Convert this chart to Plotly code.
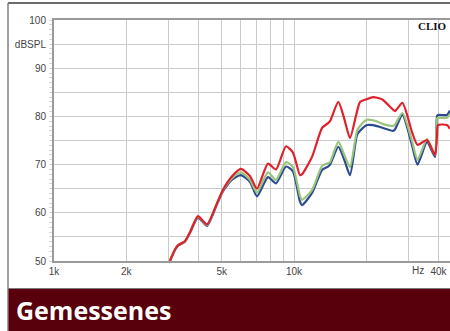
import plotly.graph_objects as go
import math

# ---- data ----
freq_hz = [3040, 3200, 3290, 3510, 3690, 3980, 4340, 4780, 5060, 5520, 6010, 6560, 7010,
           7790, 8410, 9260, 9900, 10590, 10800, 11890, 13090, 13860, 14130, 15300, 16200,
           17110, 18300, 18840, 20150, 21350, 22820, 23490, 25850, 26350, 28300, 31000,
           32700, 35830, 38680, 39430, 39810, 43410, 44670]
spl_red = [50.0, 52.5, 53.3, 54.1, 56.0, 59.3, 57.6, 62.0, 64.8, 67.6, 69.1, 67.6, 65.0,
           70.2, 69.0, 73.8, 72.5, 67.8, 68.0, 71.6, 77.6, 78.6, 79.0, 83.0, 79.5,
           75.5, 81.0, 83.0, 83.6, 84.0, 83.7, 83.4, 81.4, 81.1, 82.8, 76.8,
           74.1, 75.1, 72.0, 76.0, 78.2, 78.2, 77.4]
spl_green = [50.0, 52.5, 53.3, 54.1, 56.0, 59.2, 57.5, 62.0, 64.7, 67.2, 68.4, 66.8, 64.2,
             68.4, 66.8, 70.5, 69.5, 63.5, 62.7, 64.7, 69.7, 70.3, 70.5, 74.7, 72.0,
             69.5, 77.0, 78.0, 79.3, 79.2, 78.7, 78.4, 78.0, 78.3, 80.7, 75.0,
             71.0, 75.3, 72.0, 79.5, 79.7, 79.7, 80.5]
spl_blue = [50.0, 52.4, 53.2, 54.0, 55.9, 59.0, 57.3, 61.8, 64.5, 66.9, 67.8, 66.4, 63.4,
            67.4, 66.1, 69.6, 68.6, 62.3, 61.6, 64.1, 68.9, 69.6, 70.0, 73.7, 71.0,
            67.8, 76.1, 77.0, 78.2, 78.2, 77.8, 77.6, 77.0, 77.3, 80.3, 74.1,
            70.0, 74.7, 71.6, 80.0, 80.3, 80.3, 81.2]

x_tick_freqs = [1000, 2000, 3000, 4000, 5000, 6000, 7000, 8000, 9000, 10000, 20000, 30000, 40000]
x_tick_text = ["1k", "2k", "", "", "5k", "", "", "", "", "10k", "", "", "40k"]
y_tick_vals = [50, 55, 60, 65, 70, 75, 80, 85, 90, 95, 100]
y_tick_text = ["50", "", "60", "", "70", "", "80", "", "90", "dBSPL", "100"]

# ---- layout geometry (pixels) ----
W, H = 450, 331
L, T, R, B = 54, 20, 0, 70
PW, PH = W - L - R, H - T - B

def xp(px):
    return (px - L) / PW

def yp(py):
    return (H - B - py) / PH

fig = go.Figure()
for y, col in [(spl_blue, "#2b4a8f"), (spl_green, "#98c47e"), (spl_red, "#e0212b")]:
    fig.add_trace(go.Scatter(x=freq_hz, y=y, mode="lines",
                             line=dict(color=col, width=2.2, shape="spline", smoothing=0.6),
                             hoverinfo="skip", showlegend=False))

fig.update_xaxes(type="log", range=[3, 3 + PW / 240.0],
                 tickvals=x_tick_freqs, ticktext=x_tick_text,
                 showgrid=True, gridcolor="#cacaca", gridwidth=1,
                 showline=True, linecolor="#9a9a9a", linewidth=2, mirror=True,
                 ticks="", tickfont=dict(family="Liberation Sans, Arial", size=10, color="#444"),
                 zeroline=False, fixedrange=True)
fig.update_yaxes(range=[50, 100], tickvals=y_tick_vals, ticktext=y_tick_text,
                 showgrid=True, gridcolor="#cacaca", gridwidth=1,
                 showline=True, linecolor="#9a9a9a", linewidth=2,
                 ticks="", ticklabelstandoff=4,
                 minor=dict(ticks="outside", ticklen=3, dtick=1, tickcolor="#d8d8d8", showgrid=False),
                 tickfont=dict(family="Liberation Sans, Arial", size=10, color="#444"),
                 zeroline=False, fixedrange=True)

shapes = [
    # outer frame top and left
    dict(type="line", xref="paper", yref="paper", x0=xp(8), x1=xp(451), y0=yp(3), y1=yp(3),
         line=dict(color="#3a3a3a", width=1.5)),
    dict(type="line", xref="paper", yref="paper", x0=xp(8), x1=xp(8), y0=yp(3), y1=yp(332),
         line=dict(color="#808080", width=1.5)),
    # banner
    dict(type="rect", xref="paper", yref="paper", x0=xp(8.5), x1=xp(451), y0=yp(289), y1=yp(332),
         fillcolor="#58000b", line=dict(width=0), layer="above"),
    dict(type="line", xref="paper", yref="paper", x0=xp(8), x1=xp(451), y0=yp(288.5), y1=yp(288.5),
         line=dict(color="#7a7a7a", width=1)),
]

annotations = [
    dict(text="<b>Gemessenes</b>", xref="paper", yref="paper", x=xp(14), y=yp(310),
         xanchor="left", yanchor="middle", showarrow=False,
         font=dict(family="Open Sans", size=25, color="white")),
    dict(text="Hz", xref="paper", yref="paper", x=xp(418), y=yp(270),
         xanchor="center", yanchor="middle", showarrow=False,
         font=dict(family="Liberation Sans, Arial", size=10, color="#444")),
    dict(text="<b>CLIO</b>", xref="paper", yref="paper", x=xp(449), y=yp(26),
         xanchor="right", yanchor="middle", showarrow=False,
         font=dict(family="Liberation Serif, DejaVu Serif", size=11, color="#111")),
]

fig.update_layout(width=W, height=H, margin=dict(l=L, r=R, t=T, b=B, pad=0),
                  paper_bgcolor="white", plot_bgcolor="white",
                  shapes=shapes, annotations=annotations)

fig.write_html("out.html", config={"displayModeBar": False},
               post_script="document.body.style.margin='0';document.body.style.overflow='hidden';")
